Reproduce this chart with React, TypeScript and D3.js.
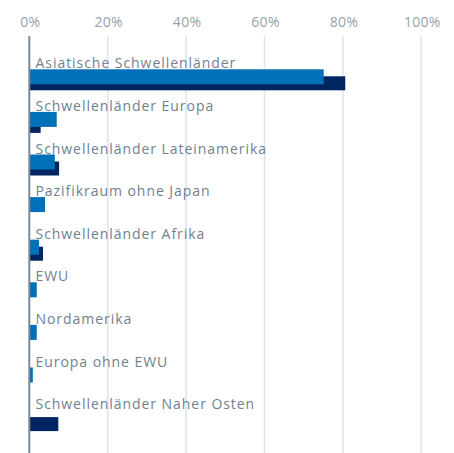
import React from "react";
import * as d3 from "d3";

const categories = [
  "Asiatische Schwellenländer",
  "Schwellenländer Europa",
  "Schwellenländer Lateinamerika",
  "Pazifikraum ohne Japan",
  "Schwellenländer Afrika",
  "EWU",
  "Nordamerika",
  "Europa ohne EWU",
  "Schwellenländer Naher Osten",
];
const seriesLight = [75.1, 7.0, 6.5, 4.0, 2.5, 1.9, 1.9, 0.9, 0];
const seriesDark = [80.6, 2.9, 7.6, 0, 3.5, 0, 0, 0, 7.4];
const ticks = [0, 20, 40, 60, 80, 100];

const W = 454;
const H = 453;
const LIGHT = "#0070b8";
const DARK = "#002662";
const FONT = "'Open Sans', 'Noto Sans', sans-serif";

export default function App() {
  const x = d3.scaleLinear().domain([0, 100]).range([29.3, 421.3]);
  const y = d3
    .scaleBand<string>()
    .domain(categories)
    .range([46, 46 + 42.6 * categories.length]);
  return (
    <svg
      width={W}
      height={H}
      style={{ position: "absolute", left: 0, top: 0, display: "block" }}
    >
      <rect width={W} height={H} fill="#fff" />
      {ticks.map((t) => (
        <g key={t}>
          {t !== 0 && (
            <line
              x1={x(t)}
              x2={x(t)}
              y1={36}
              y2={H}
              stroke="#dde6ef"
              strokeWidth={1.6}
            />
          )}
          <text
            x={x(t) + 1}
            y={26.5}
            textAnchor="middle"
            fontFamily={FONT}
            fontSize={14}
            fill="#949fab"
            letterSpacing={0.3}
          >
            {t}%
          </text>
        </g>
      ))}
      {categories.map((c, i) => {
        const b = y(c)!;
        const top = b + 23.3;
        return (
          <g key={c}>
            <text
              x={35.5}
              y={top - 1}
              fontFamily={FONT}
              fontSize={14}
              fill="#717f90"
              letterSpacing={0.95}
            >
              {c}
            </text>
            {seriesDark[i] > 0 && (
              <rect
                x={x(0)}
                y={top + 7}
                width={x(seriesDark[i]) - x(0)}
                height={14}
                fill={DARK}
              />
            )}
            {seriesLight[i] > 0 && (
              <rect
                x={x(0)}
                y={top}
                width={x(seriesLight[i]) - x(0)}
                height={15}
                fill={LIGHT}
              />
            )}
          </g>
        );
      })}
      <line
        x1={x(0)}
        x2={x(0)}
        y1={36}
        y2={H}
        stroke="#7c8896"
        strokeWidth={2}
      />
    </svg>
  );
}
